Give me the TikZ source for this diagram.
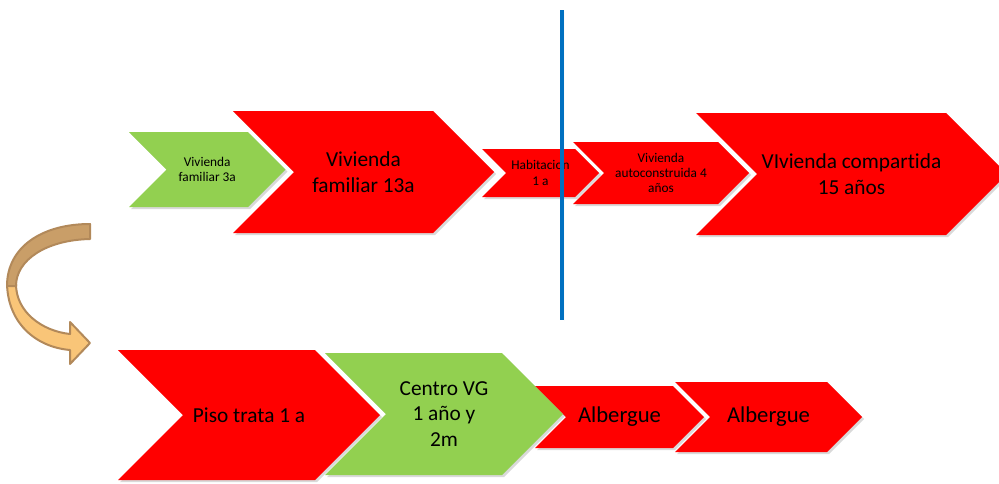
\documentclass[tikz,border=0pt]{standalone}
\usepackage{fontspec}
\setmainfont{Carlito}[Ligatures=NoCommon]
\usetikzlibrary{shadows}
\definecolor{red1}{HTML}{FF0000}
\definecolor{green1}{HTML}{92D050}
\definecolor{blue1}{HTML}{0070C0}
\definecolor{tan1}{HTML}{C99E68}
\definecolor{tan2}{HTML}{F9C578}
\definecolor{tan3}{HTML}{B2895A}

% name, colour, text style, left, top, top width, height, text
\newcommand{\chevron}[8]{%
  \fill[chev, fill=#2] (#4,#5) -- ++(#6,0) -- ++({#7/2},{#7/2}) -- ++({-#7/2},{#7/2})
    -- ++(-#6,0) -- ++({#7/2},{-#7/2}) -- cycle;
  \node[#3] (#1) at ({#4+#6/2+#7/4},{#5+#7/2}) {#8};
}

\begin{document}
\begin{tikzpicture}[x=0.75pt, y=-0.75pt,
  chev/.style={drop shadow={opacity=0.3, shadow xshift=1.5pt, shadow yshift=-1.5pt}},
  smalltxt/.style={align=center, inner sep=0, font=\fontsize{10}{11.5}\selectfont},
  bigtxt/.style={align=center, inner sep=0, font=\fontsize{16}{19}\selectfont},
  albtxt/.style={align=center, inner sep=0, font=\fontsize{17}{20}\selectfont}]
\useasboundingbox (0,0) rectangle (999,483);

% top row
\chevron{fam3}{green1}{smalltxt}{129}{132}{119}{75}{Vivienda\\familiar 3a}
\chevron{fam13}{red1}{bigtxt}{233}{111}{200}{122}{Vivienda\\familiar 13a}
\chevron{hab}{red1}{smalltxt}{482}{149}{93}{48}{Habitacion\\1 a}
\chevron{auto}{red1}{smalltxt}{573}{142}{145}{62}{Vivienda\\autoconstruida 4\\años}
\chevron{comp}{red1}{bigtxt}{696}{113}{250}{122}{VIvienda compartida\\15 años}

% bottom row
\chevron{piso}{red1}{bigtxt}{118}{350}{197}{130}{Piso trata 1 a}
\chevron{alb1}{red1}{albtxt}{535}{386}{138}{62}{Albergue}
\chevron{centro}{green1}{bigtxt}{325}{353}{177}{122}{Centro VG\\1 año y\\2m}
\chevron{alb2}{red1}{albtxt}{675}{382}{152}{70}{Albergue}

% dividing line
\coordinate (ltop) at (562,10);
\coordinate (lbot) at (562,320);
\draw[blue1, line width=3.5pt, drop shadow={opacity=0.25, shadow xshift=2pt, shadow yshift=-1pt}] (ltop) -- (lbot);

% curved arrow
\filldraw[tan3, fill=tan2, line width=1.5pt, line join=round]
  (7,282) .. controls (7,322) and (35,347) .. (70,350) -- (70,364) -- (90,343) -- (70,322)
  -- (70,334) .. controls (42,331) and (16,312) .. (16,284) -- cycle;
\filldraw[tan3, fill=tan1, line width=1.5pt, line join=round]
  (90,224) -- (90,239) .. controls (46,240) and (16,260) .. (16,286)
  -- (7,286) .. controls (7,247) and (42,224) .. (90,224) -- cycle;
\end{tikzpicture}
\end{document}
